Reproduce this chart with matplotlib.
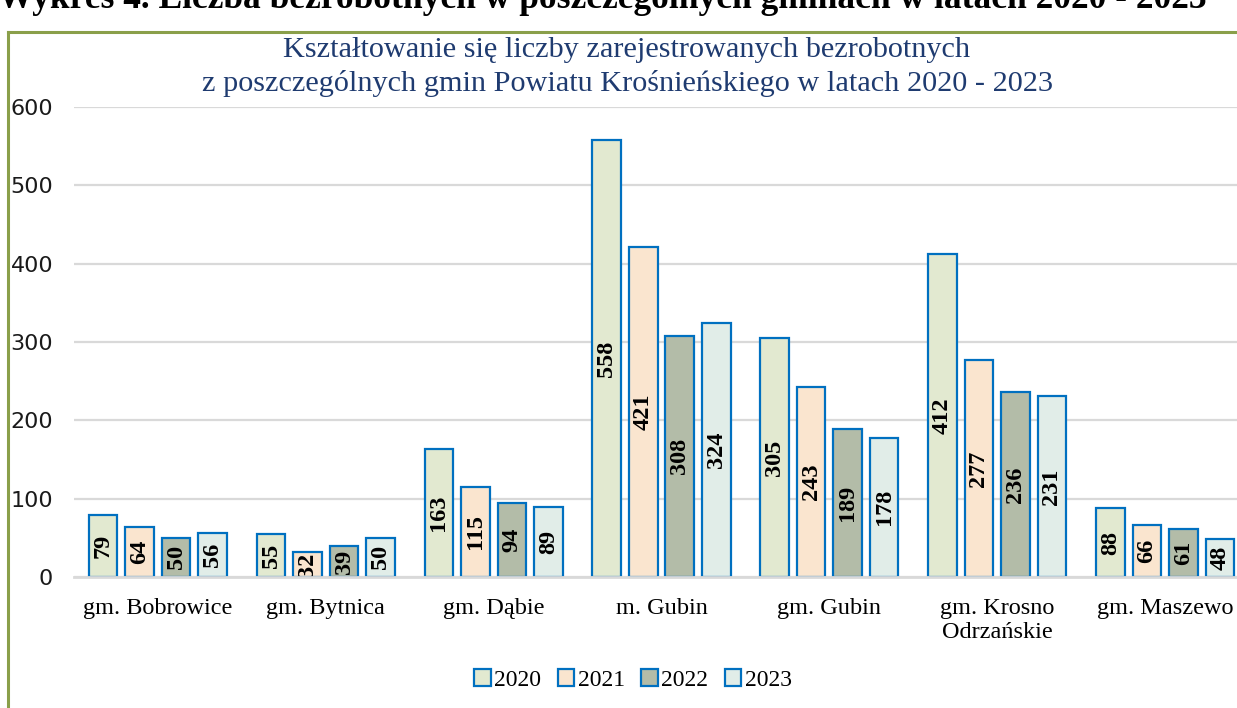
import numpy as np
import matplotlib
matplotlib.use("Agg")
import matplotlib.pyplot as plt
from matplotlib.lines import Line2D
from matplotlib.patches import Patch

gminy = ["gm. Bobrowice", "gm. Bytnica", "gm. Dąbie", "m. Gubin", "gm. Gubin",
         "gm. Krosno\nOdrzańskie", "gm. Maszewo"]
lata = ["2020", "2021", "2022", "2023"]
v2020 = [79, 55, 163, 558, 305, 412, 88]
v2021 = [64, 32, 115, 421, 243, 277, 66]
v2022 = [50, 39, 94, 308, 189, 236, 61]
v2023 = [56, 50, 89, 324, 178, 231, 48]
y_ticks = [0, 100, 200, 300, 400, 500, 600]

kolory = ["#E2E9D0", "#FAE5CF", "#B3BCA8", "#E1EDE8"]
obrys = "#0070C0"
serif = "Liberation Serif"

W, H = 1237, 708
fig = plt.figure(figsize=(W / 100, H / 100), dpi=100)

# obszar wykresu wychodzi poza prawą krawędź rysunku
ax = fig.add_axes([74 / W, 1 - 577 / H, 1175 / W, 470 / H])

x = np.arange(len(gminy))
krok = 0.2174
szer = 0.17
for k, (seria, kolor) in enumerate(zip([v2020, v2021, v2022, v2023], kolory)):
    pos = x + (k - 1.5) * krok
    bars = ax.bar(pos, seria, width=szer, color=kolor, edgecolor=obrys,
                  linewidth=1.6, zorder=3, label=lata[k])
    for b, v in zip(bars, seria):
        ax.text(b.get_x() + b.get_width() / 2, v / 2, str(v), rotation=90,
                ha="center", va="center", fontsize=17.5, fontweight="bold",
                family=serif, color="black", zorder=4)

ax.set_xlim(-0.5, 6.5)
ax.set_ylim(0, 600)
ax.set_yticks(y_ticks)
ax.set_yticklabels([str(t) for t in y_ticks], fontsize=16, family="DejaVu Sans",
                   color="#1a1a1a")
ax.yaxis.grid(True, color="#D9D9D9", linewidth=1.6, zorder=0)
ax.set_axisbelow(True)
ax.set_xticks(x)
ax.set_xticklabels(gminy, family=serif, fontsize=17.5, linespacing=1.2)
ax.tick_params(axis="y", length=0, pad=15)
ax.tick_params(axis="x", length=0, pad=15)
for s in ["top", "right", "left"]:
    ax.spines[s].set_visible(False)
ax.spines["bottom"].set_color("#D9D9D9")
ax.spines["bottom"].set_linewidth(2)
ax.spines["bottom"].set_zorder(5)

fig.text(627 / W, 1 - 67 / H,
         "Kształtowanie się liczby zarejestrowanych bezrobotnych\n"
         "z poszczególnych gmin Powiatu Krośnieńskiego w latach 2020 - 2023",
         ha="center", va="center", family=serif, fontsize=21.8, color="#1F3B70",
         linespacing=1.32)

# nagłówek nad ramką, częściowo ucięty
fig.text(-2 / W, 1 - 8 / H,
         "Wykres 4. Liczba bezrobotnych w poszczególnych gminach w latach 2020 - 2023",
         ha="left", va="baseline", family=serif, fontsize=25.5, fontweight="bold",
         color="black")

# ramka
rama = "#8A9F4A"
fig.add_artist(Line2D([8 / W, 8 / W], [1 - 32 / H, 0], color=rama, linewidth=2.2,
                      transform=fig.transFigure))
fig.add_artist(Line2D([8 / W, 1], [1 - 32 / H, 1 - 32 / H], color=rama,
                      linewidth=2.2, transform=fig.transFigure))

uchwyty = [Patch(facecolor=c, edgecolor=obrys, linewidth=1.6) for c in kolory]
fig.legend(uchwyty, lata, loc="center", bbox_to_anchor=(633 / W, 1 - 680 / H),
           ncol=4, frameon=False, prop={"family": serif, "size": 17},
           handlelength=0.7, handleheight=0.7, handletextpad=0.15,
           columnspacing=0.7)

fig.savefig("out.png", dpi=100)
